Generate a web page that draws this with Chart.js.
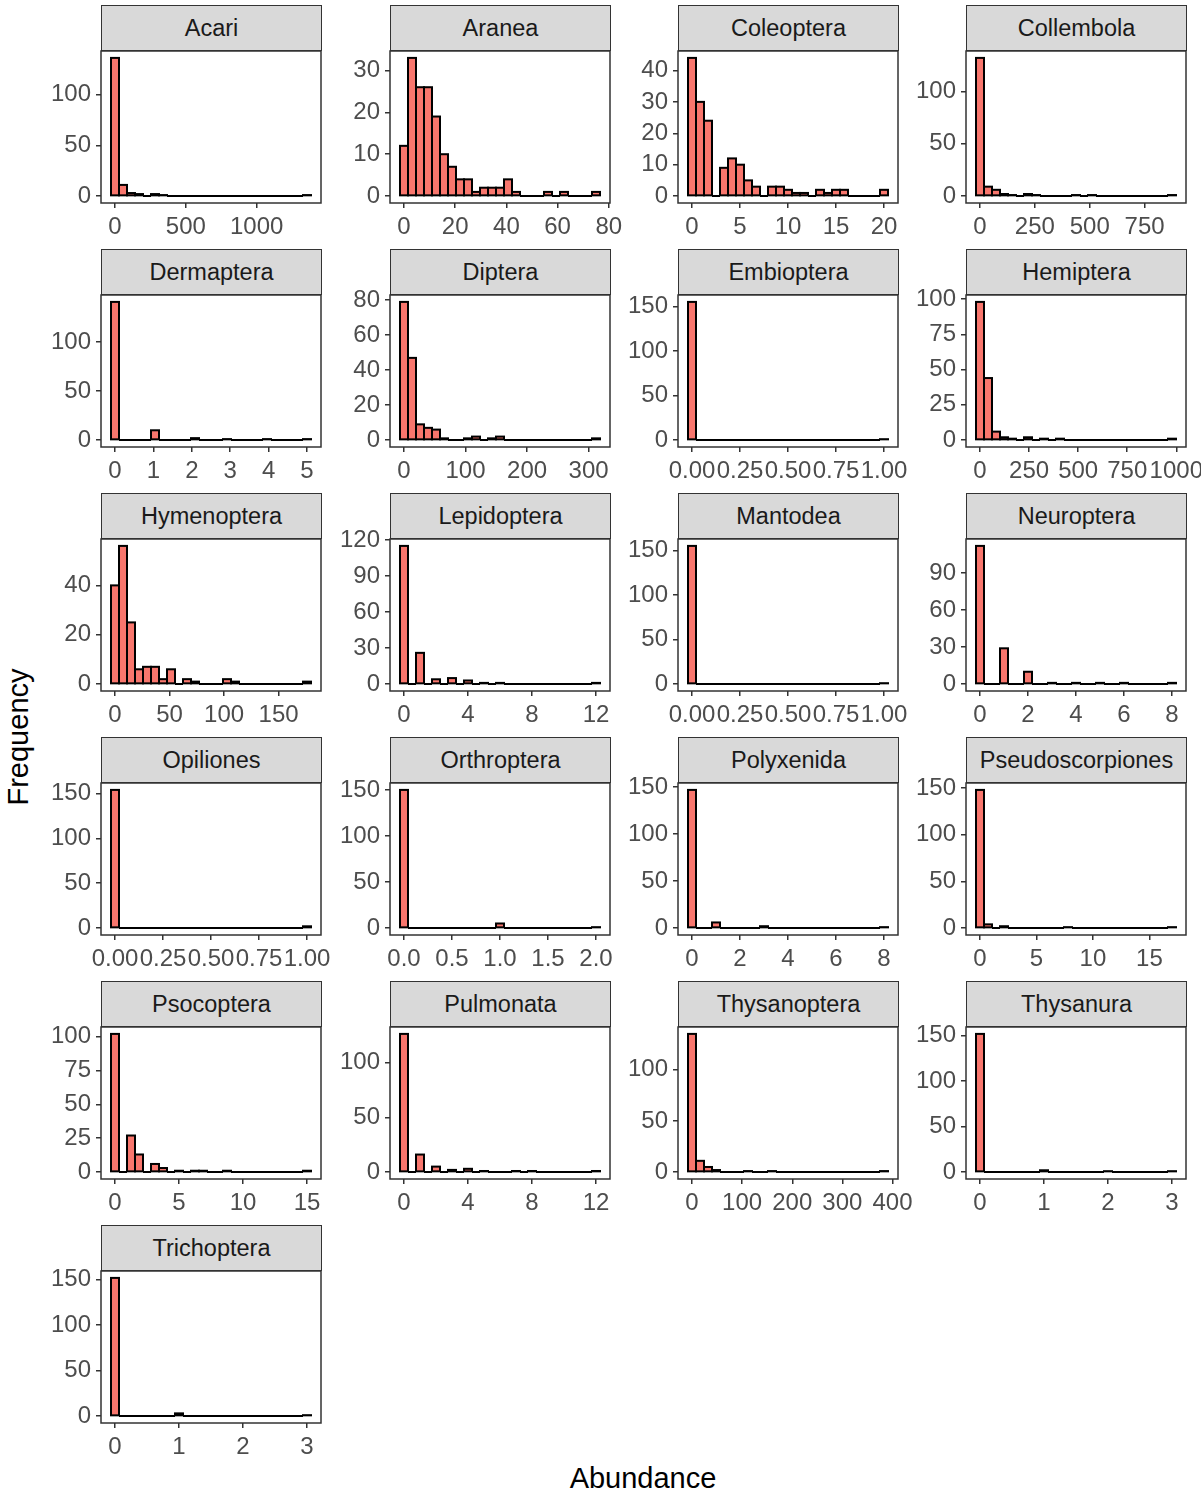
<!DOCTYPE html>
<html>
<head>
<meta charset="utf-8">
<script src="https://cdn.jsdelivr.net/npm/chart.js@4.4.1/dist/chart.umd.min.js"></script>
<style>
  body { margin: 0; background: #fff; font-family: 'Liberation Sans', Arial, sans-serif; }
  #page { position: relative; width: 1201px; height: 1494px; overflow: hidden; }
  .strip { position: absolute; box-sizing: border-box; width: 221px; height: 46px; background: #d9d9d9;
           border: 1.5px solid #333; color: #1a1a1a; font-size: 23.5px; text-align: center; line-height: 44px; }
  canvas { position: absolute; display: block; }
  .title { position: absolute; color: #000; font-size: 29px; white-space: nowrap; }
</style>
</head>
<body>
<div id="page">
  <div class="title" style="left:18px; top:737px; transform: translate(-50%,-50%) rotate(-90deg);">Frequency</div>
  <div class="title" style="left:643px; top:1478px; transform: translate(-50%,-50%);">Abundance</div>
</div>
<script>
// facets, in ggplot facet_wrap order
let taxa = ['Acari','Aranea','Coleoptera','Collembola','Dermaptera','Diptera','Embioptera','Hemiptera',
  'Hymenoptera','Lepidoptera','Mantodea','Neuroptera','Opiliones','Orthroptera','Polyxenida','Pseudoscorpiones',
  'Psocoptera','Pulmonata','Thysanoptera','Thysanura','Trichoptera'];

// largest abundance per taxon (centre of the last bin)
let binMax = [1355, 75, 20, 875, 5, 312, 1, 978, 176, 12, 1, 8, 1, 2, 8, 17, 15, 12, 383, 3, 3];

// counts in the 25 histogram bins
let acari       = [136,11,3,2,0,2,1,0,0,0,0,0,0,0,0,0,0,0,0,0,0,0,0,0,1];
let aranea      = [12,33,26,26,19,10,7,4,4,1,2,2,2,4,1,0,0,0,1,0,1,0,0,0,1];
let coleoptera  = [44,30,24,0,9,12,10,5,3,0,3,3,2,1,1,0,2,1,2,2,0,0,0,0,2];
let collembola  = [132,9,6,2,1,0,2,1,0,0,0,0,1,0,1,0,0,0,0,0,0,0,0,0,1];
let dermaptera  = [141,0,0,0,0,10,0,0,0,0,2,0,0,0,1,0,0,0,0,1,0,0,0,0,1];
let diptera     = [79,47,9,7,6,1,0,0,1,2,0,1,2,0,0,0,0,0,0,0,0,0,0,0,1];
let embioptera  = [155,0,0,0,0,0,0,0,0,0,0,0,0,0,0,0,0,0,0,0,0,0,0,0,1];
let hemiptera   = [98,44,6,2,1,0,2,0,1,0,1,0,0,0,0,0,0,0,0,0,0,0,0,0,1];
let hymenoptera = [40,56,25,6,7,7,2,6,0,2,1,0,0,0,2,1,0,0,0,0,0,0,0,0,1];
let lepidoptera = [115,0,26,0,4,0,5,0,3,0,1,0,1,0,0,0,0,0,0,0,0,0,0,0,1];
let mantodea    = [155,0,0,0,0,0,0,0,0,0,0,0,0,0,0,0,0,0,0,0,0,0,0,0,1];
let neuroptera  = [112,0,0,29,0,0,10,0,0,1,0,0,1,0,0,1,0,0,1,0,0,0,0,0,1];
let opiliones   = [154,0,0,0,0,0,0,0,0,0,0,0,0,0,0,0,0,0,0,0,0,0,0,0,2];
let orthroptera = [150,0,0,0,0,0,0,0,0,0,0,0,5,0,0,0,0,0,0,0,0,0,0,0,1];
let polyxenida  = [147,0,0,6,0,0,0,0,0,2,0,0,0,0,0,0,0,0,0,0,0,0,0,0,1];
let pseudoscorp = [148,4,0,2,0,0,0,0,0,0,0,1,0,0,0,0,0,0,0,0,0,0,0,0,1];
let psocoptera  = [102,0,27,13,0,6,3,0,1,0,1,1,0,0,1,0,0,0,0,0,0,0,0,0,1];
let pulmonata   = [126,0,16,0,5,0,2,0,3,0,1,0,0,0,1,0,1,0,0,0,0,0,0,0,1];
let thysanopt   = [135,11,5,2,0,0,0,1,0,0,1,0,0,0,0,0,0,0,0,0,0,0,0,0,1];
let thysanura   = [152,0,0,0,0,0,0,0,2,0,0,0,0,0,0,0,1,0,0,0,0,0,0,0,1];
let trichoptera = [152,0,0,0,0,0,0,0,3,0,0,0,0,0,0,0,0,0,0,0,0,0,0,0,1];

let binCounts = [acari, aranea, coleoptera, collembola, dermaptera, diptera, embioptera, hemiptera,
  hymenoptera, lepidoptera, mantodea, neuroptera, opiliones, orthroptera, polyxenida, pseudoscorp,
  psocoptera, pulmonata, thysanopt, thysanura, trichoptera];

let xTickLabels = [
  ['0','500','1000'], ['0','20','40','60','80'], ['0','5','10','15','20'], ['0','250','500','750'],
  ['0','1','2','3','4','5'], ['0','100','200','300'], ['0.00','0.25','0.50','0.75','1.00'], ['0','250','500','750','1000'],
  ['0','50','100','150'], ['0','4','8','12'], ['0.00','0.25','0.50','0.75','1.00'], ['0','2','4','6','8'],
  ['0.00','0.25','0.50','0.75','1.00'], ['0.0','0.5','1.0','1.5','2.0'], ['0','2','4','6','8'], ['0','5','10','15'],
  ['0','5','10','15'], ['0','4','8','12'], ['0','100','200','300','400'], ['0','1','2','3'], ['0','1','2','3']
];

let yTickLabels = [
  ['0','50','100'], ['0','10','20','30'], ['0','10','20','30','40'], ['0','50','100'],
  ['0','50','100'], ['0','20','40','60','80'], ['0','50','100','150'], ['0','25','50','75','100'],
  ['0','20','40'], ['0','30','60','90','120'], ['0','50','100','150'], ['0','30','60','90'],
  ['0','50','100','150'], ['0','50','100','150'], ['0','50','100','150'], ['0','50','100','150'],
  ['0','25','50','75','100'], ['0','50','100'], ['0','50','100'], ['0','50','100','150'], ['0','50','100','150']
];

let colLeft = [101, 390, 678, 966];
let rowTop = [5, 249, 493, 737, 981, 1225];

Chart.defaults.font.family = "'Liberation Sans', Arial, sans-serif";

// black outline round every bin, zero bins included (they become a flat line, as in ggplot)
let barOutline = {
  id: 'barOutline',
  afterDatasetsDraw(chart) {
    let ctx = chart.ctx;
    ctx.save();
    ctx.strokeStyle = '#000';
    ctx.lineWidth = 2;
    chart.getDatasetMeta(0).data.forEach(bar => {
      let p = bar.getProps(['x', 'y', 'base', 'width'], true);
      ctx.strokeRect(p.x - p.width / 2, Math.min(p.y, p.base), p.width, Math.abs(p.base - p.y));
    });
    ctx.restore();
  }
};

// box round each panel, like theme_bw
let panelBorder = {
  id: 'panelBorder',
  afterDatasetsDraw(chart) {
    let ctx = chart.ctx, a = chart.chartArea;
    ctx.save();
    ctx.strokeStyle = '#333';
    ctx.lineWidth = 1.5;
    ctx.strokeRect(a.left, a.top, a.right - a.left, a.bottom - a.top);
    ctx.restore();
  }
};

let page = document.getElementById('page');

taxa.forEach((name, i) => {
  let left = colLeft[i % 4];
  let top = rowTop[Math.floor(i / 4)];

  let strip = document.createElement('div');
  strip.className = 'strip';
  strip.style.left = left + 'px';
  strip.style.top = top + 'px';
  strip.textContent = name;
  page.appendChild(strip);

  let canvas = document.createElement('canvas');
  canvas.width = 350;
  canvas.height = 212;
  canvas.style.left = (left - 100) + 'px';
  canvas.style.top = (top + 26) + 'px';
  page.appendChild(canvas);

  let counts = binCounts[i];
  let w = binMax[i] / (counts.length - 1);
  let bars = counts.map((c, k) => ({ x: k * w, y: c }));
  let lo = -w / 2, hi = binMax[i] + w / 2;
  let padX = (hi - lo) * 0.05;
  let yTop = Math.max(...counts);
  let xt = xTickLabels[i], yt = yTickLabels[i];

  new Chart(canvas, {
    type: 'bar',
    data: {
      datasets: [{
        data: bars,
        backgroundColor: '#F8766D',
        borderWidth: 0,
        inflateAmount: 0,
        barPercentage: 1,
        categoryPercentage: 1
      }]
    },
    options: {
      responsive: false,
      animation: false,
      devicePixelRatio: 1,
      layout: { padding: { left: 0, top: 20, right: 30, bottom: 0 } },
      plugins: {
        legend: { display: false },
        tooltip: { enabled: false }
      },
      scales: {
        x: {
          type: 'linear',
          offset: false,
          min: lo - padX,
          max: hi + padX,
          afterBuildTicks: ax => { ax.ticks = xt.map(s => ({ value: Number(s) })); },
          afterFit: ax => { ax.height = 40; },
          grid: { display: true, drawOnChartArea: false, drawTicks: true, tickLength: 5, color: '#333', lineWidth: 1.5, offset: false },
          border: { display: false },
          ticks: {
            autoSkip: false, maxRotation: 0, minRotation: 0, padding: 5,
            color: '#4d4d4d', font: { size: 24 },
            callback: (v, k) => xt[k]
          }
        },
        y: {
          min: -0.05 * yTop,
          max: 1.05 * yTop,
          afterBuildTicks: ax => { ax.ticks = yt.map(s => ({ value: Number(s) })); },
          afterFit: ax => { ax.width = 100; },
          grid: { display: true, drawOnChartArea: false, drawTicks: true, tickLength: 5, color: '#333', lineWidth: 1.5 },
          border: { display: false },
          ticks: {
            padding: 5,
            color: '#4d4d4d', font: { size: 24 },
            callback: (v, k) => yt[k]
          }
        }
      }
    },
    plugins: [barOutline, panelBorder]
  });
});
</script>
</body>
</html>
